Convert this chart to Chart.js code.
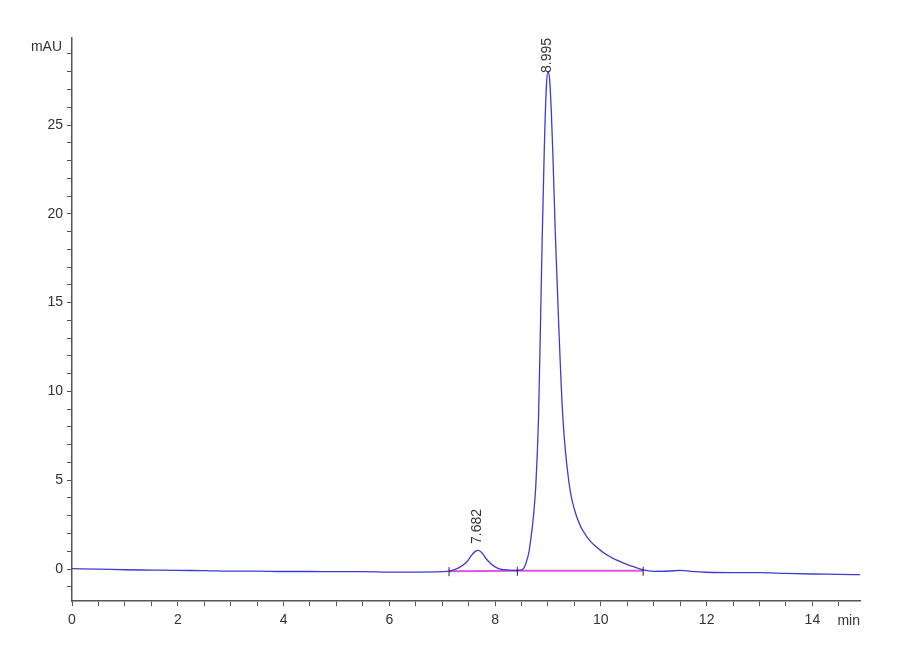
<!DOCTYPE html>
<html>
<head>
<meta charset="utf-8">
<script src="https://cdn.jsdelivr.net/npm/chart.js@4.4.1/dist/chart.umd.min.js"></script>
<style>
  body { margin: 0; background: #fff; }
  #wrap { width: 900px; height: 660px; position: relative; }
</style>
</head>
<body>
<div id="wrap"><canvas id="myChart"></canvas></div>
<script>
// retention time (min) and signal (mAU)
var times = [0, 0.5, 1, 1.5, 2, 2.5, 3, 3.5, 4, 4.5, 5, 5.5, 6, 6.5, 7, 7.13, 7.3, 7.45, 7.55, 7.62, 7.68, 7.75, 7.82, 7.9, 8.0, 8.1, 8.25, 8.42,
  8.52, 8.58, 8.64, 8.68, 8.72, 8.77, 8.82, 8.85, 8.89, 8.93, 8.97, 9.0, 9.03, 9.06, 9.09, 9.14, 9.2, 9.28, 9.4, 9.56, 9.75, 10.04,
  10.3, 10.6, 10.8, 11.0, 11.3, 11.5, 11.7, 12, 12.5, 13, 13.5, 14, 14.5, 14.9]
var signal = [0.02, 0.0, -0.04, -0.06, -0.08, -0.09, -0.12, -0.12, -0.14, -0.14, -0.15, -0.15, -0.17, -0.17, -0.15, -0.12, 0.05, 0.35, 0.75, 0.98, 1.05, 0.92, 0.62, 0.35, 0.12, 0.0, -0.06, -0.08,
  -0.02, 0.3, 0.95, 1.8, 2.8, 4.7, 8.4, 12.5, 18.5, 23.6, 27.2, 28.0, 27.6, 26.0, 23.6, 18.8, 14.0, 8.6, 4.8, 2.8, 1.75, 0.95,
  0.5, 0.15, -0.05, -0.13, -0.11, -0.08, -0.13, -0.18, -0.2, -0.2, -0.25, -0.28, -0.3, -0.32]

// integration baseline and its start/stop marks
var baseTimes = [7.13, 8.42, 10.8]
var baseValues = [-0.12, -0.1, -0.1]

// peak labels
var peakTimes = [7.682, 8.995]
var peakHeights = [1.07, 28.0]
var peakLabels = ['7.682', '8.995']

var xMin = 0, xMax = 14.9
var yMin = -1.8, yMax = 29.9
var axisColor = '#555'
var textColor = '#333'
var fontFam = '"Liberation Sans Narrow", "Arial Narrow", "Liberation Sans", Arial, sans-serif'

var trace = []
for (var i = 0; i < times.length; i++) trace.push({x: times[i], y: signal[i]})
var base = []
for (var i = 0; i < baseTimes.length; i++) base.push({x: baseTimes[i], y: baseValues[i]})

var extras = {
  id: 'extras',
  afterDatasetsDraw: function(chart) {
    var ctx = chart.ctx
    var xs = chart.scales.x, ys = chart.scales.y
    var area = chart.chartArea
    ctx.save()
    // start/stop ticks
    ctx.strokeStyle = '#222'
    ctx.lineWidth = 1
    for (var i = 0; i < baseTimes.length; i++) {
      var px = xs.getPixelForValue(baseTimes[i])
      var py = ys.getPixelForValue(baseValues[i])
      ctx.beginPath()
      ctx.moveTo(px, py - 4)
      ctx.lineTo(px, py + 5)
      ctx.stroke()
    }
    // peak retention labels, rotated
    ctx.font = '14px ' + fontFam
    ctx.fillStyle = textColor
    ctx.textAlign = 'left'
    ctx.textBaseline = 'middle'
    for (var i = 0; i < peakTimes.length; i++) {
      var px = xs.getPixelForValue(peakTimes[i])
      var py = ys.getPixelForValue(peakHeights[i])
      var w = ctx.measureText(peakLabels[i]).width
      var bottom = Math.max(py - 6, area.top + w)
      ctx.save()
      ctx.translate(px - 1, bottom)
      ctx.rotate(-Math.PI / 2)
      ctx.fillText(peakLabels[i], 0, 0)
      ctx.restore()
    }
    // axis units
    ctx.textAlign = 'right'
    ctx.fillText('mAU', area.left - 10, area.top + 9)
    ctx.textBaseline = 'top'
    ctx.fillText('min', area.right, area.bottom + 13)
    ctx.restore()
  }
}

var chart = new Chart(document.getElementById('myChart'), {
  type: 'line',
  data: {
    datasets: [
      {
        label: 'signal',
        data: trace,
        borderColor: '#3c3cd0',
        borderWidth: 1.3,
        pointRadius: 0,
        cubicInterpolationMode: 'monotone',
        fill: false,
        order: 1
      },
      {
        label: 'baseline',
        data: base,
        borderColor: '#e055e0',
        borderWidth: 2,
        pointRadius: 0,
        tension: 0,
        fill: false,
        order: 2
      }
    ]
  },
  options: {
    responsive: true,
    maintainAspectRatio: false,
    animation: false,
    layout: { padding: { top: 38, right: 40, left: 0, bottom: 0 } },
    plugins: { legend: { display: false }, tooltip: { enabled: false } },
    scales: {
      x: {
        type: 'linear',
        min: xMin,
        max: xMax,
        afterFit: function(s) { s.height = 59 },
        border: { color: axisColor, width: 1.5 },
        grid: { drawOnChartArea: false, drawTicks: true, tickLength: 5, color: axisColor },
        ticks: {
          stepSize: 0.5,
          includeBounds: false,
          autoSkip: false,
          maxRotation: 0,
          padding: 6,
          color: textColor,
          font: { family: fontFam, size: 14 },
          callback: function(v) {
            if (Math.abs(v % 2) < 1e-6) return String(v)
            return ''
          }
        }
      },
      y: {
        type: 'linear',
        min: yMin,
        max: yMax,
        afterFit: function(s) { s.width = 72 },
        border: { color: axisColor, width: 1.5 },
        grid: { drawOnChartArea: false, drawTicks: true, tickLength: 5, color: axisColor },
        ticks: {
          stepSize: 1,
          includeBounds: false,
          autoSkip: false,
          padding: 4,
          color: textColor,
          font: { family: fontFam, size: 14 },
          callback: function(v) {
            if (Math.abs(v % 5) < 1e-6) return String(v)
            return ''
          }
        }
      }
    }
  },
  plugins: [extras]
})
</script>
</body>
</html>
